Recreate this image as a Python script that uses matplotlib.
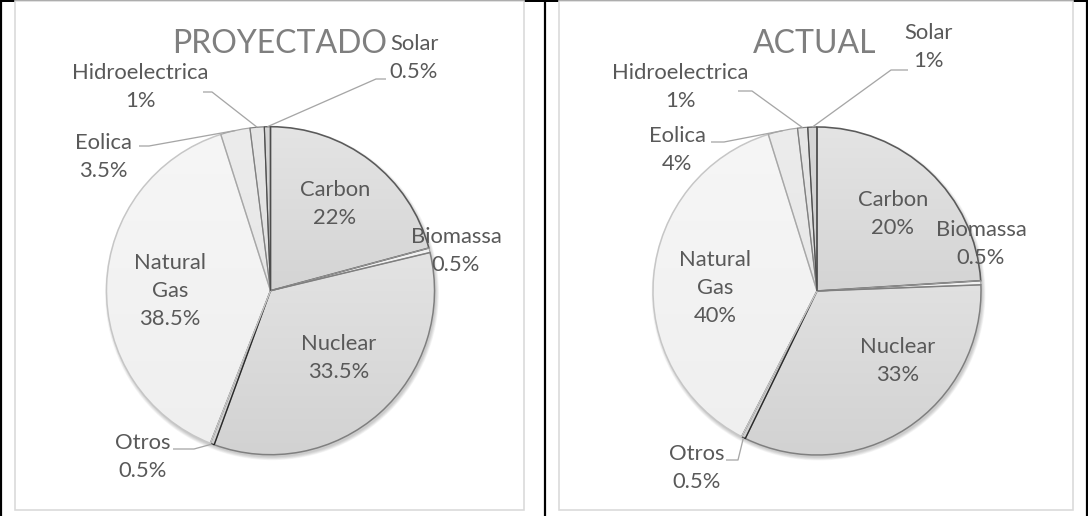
import numpy as np
import matplotlib
matplotlib.use('Agg')
import matplotlib.pyplot as plt
from matplotlib.patches import Rectangle, Circle
from matplotlib.colors import LinearSegmentedColormap

W, H = 1088, 516

# ── Data ─────────────────────────────────────────────────────────────────────
sources = ['Carbon', 'Biomassa', 'Nuclear', 'Otros', 'Natural\nGas',
           'Eolica', 'Hidroelectrica', 'Solar']

# slice sizes as drawn
share_proy = [20.8, 0.45, 34.3, 0.4, 39.1, 2.9, 1.4, 0.6]
share_act = [24.0, 0.4, 32.8, 0.4, 37.6, 2.9, 1.0, 0.9]

# percentages as printed on the labels
pct_proy = ['22%', '0.5%', '33.5%', '0.5%', '38.5%', '3.5%', '1%', '0.5%']
pct_act = ['20%', '0.5%', '33%', '0.5%', '40%', '4%', '1%', '1%']

titles = ['PROYECTADO', 'ACTUAL']

# ── Styles ───────────────────────────────────────────────────────────────────
# (top colour, bottom colour, edge colour, edge px)
slice_style = [
    ('#e4e4e4', '#c4c4c4', '#5a5a5a', 1.6),   # Carbon
    ('#f6f6f6', '#ececec', '#9a9a9a', 1.0),   # Biomassa
    ('#eeeeee', '#d2d2d2', '#7f7f7f', 1.5),   # Nuclear
    ('#d9d9d9', '#cfcfcf', '#262626', 1.2),   # Otros
    ('#f6f6f6', '#efefef', '#c6c6c6', 1.5),   # Natural Gas
    ('#ececec', '#e2e2e2', '#a6a6a6', 1.2),   # Eolica
    ('#e6e6e6', '#dadada', '#7f7f7f', 1.2),   # Hidroelectrica
    ('#d6d6d6', '#cacaca', '#4d4d4d', 1.2),   # Solar
]

TXT = '#595959'
FONT = 'Lato'
PX = 0.72  # points per pixel at dpi 100

panels = [
    dict(center=(270.5, 290.7), title_xy=(280, 44),
         label_xy=[(335, 204), (456, 251), (339, 358), (143, 457),
                   (170, 291), (103, 157), (140, 87), (414, 58)],
         # leader: (label-side x, y, elbow x) or None
         leaders=[None, None, None, (173, 449, 194), None,
                  (139, 146, 149), (203, 92, 212), (386, 79, 376)]),
    dict(center=(817.0, 291.0), title_xy=(815, 44),
         label_xy=[(893, 214), (981, 244), (898, 361), (697, 468),
                   (715, 288), (677, 150), (680, 87), (928, 47)],
         leaders=[None, None, None, (726, 460, 738), None,
                  (711, 142, 724), (738, 91, 752), (908, 70, 891)]),
]
frames = [(15, 1, 524, 510), (559, 1, 1073, 510)]
R = 164


def Y(y):
    return H - y


fig = plt.figure(figsize=(W / 100, H / 100), dpi=100)
ax = fig.add_axes([0, 0, 1, 1])

# black table borders
for x in (1, 545, 1087):
    ax.plot([x, x], [0, H], color='black', lw=2.2 * PX, zorder=0,
            solid_capstyle='butt')
ax.plot([0, W], [Y(0.8), Y(0.8)], color='black', lw=2 * PX, zorder=0)

# chart frames
for x0, y0, x1, y1 in frames:
    ax.add_patch(Rectangle((x0, Y(y1)), x1 - x0, y1 - y0, facecolor='white',
                           edgecolor='#d9d9d9', lw=1.6 * PX, zorder=1))

for p, shares, pcts, title in zip(panels, [share_proy, share_act],
                                  [pct_proy, pct_act], titles):
    cx, cy = p['center']

    # soft shadow under the pie
    for k in range(6):
        ax.add_patch(Circle((cx + 1.5, Y(cy) - 2.5), R + 0.6 * k,
                            facecolor='black', edgecolor='none',
                            alpha=0.035, zorder=2))

    wedges, _ = ax.pie(shares, center=(cx, Y(cy)), radius=R, startangle=90,
                       counterclock=False, normalize=True, frame=True,
                       wedgeprops=dict(facecolor='none'))

    grad = np.linspace(0, 1, 256).reshape(-1, 1)
    for w, (ctop, cbot, ec, lw) in zip(wedges, slice_style):
        w.set_edgecolor(ec)
        w.set_linewidth(lw * PX)
        w.set_zorder(4)
        cmap = LinearSegmentedColormap.from_list('g', [ctop, cbot])
        im = ax.imshow(grad, cmap=cmap, aspect='auto', origin='upper',
                       extent=[cx - R, cx + R, Y(cy) - R, Y(cy) + R],
                       zorder=3, interpolation='bilinear')
        im.set_clip_path(w)

    # labels
    for name, pct, (lx, ly), ld, w in zip(sources, pcts, p['label_xy'],
                                          p['leaders'], wedges):
        ax.text(lx, Y(ly), f'{name}\n{pct}', ha='center', va='center',
                fontsize=15.8, family=FONT, color=TXT, linespacing=1.5,
                zorder=6)
        if ld is not None:
            mid = np.deg2rad((w.theta1 + w.theta2) / 2)
            tx, ty = cx + R * np.cos(mid), Y(cy) + R * np.sin(mid)
            x0, y0, xe = ld
            ax.plot([x0, xe, tx], [Y(y0), Y(y0), ty], color='#a6a6a6',
                    lw=1.3 * PX, zorder=5, solid_capstyle='butt')

    tx, ty = p['title_xy']
    ax.text(tx, Y(ty), title, ha='center', va='center', fontsize=23,
            family=FONT, color='#7f7f7f', zorder=6)

ax.set_xlim(0, W)
ax.set_ylim(0, H)
ax.set_aspect('auto')
ax.axis('off')

fig.savefig('out.png', dpi=100)
